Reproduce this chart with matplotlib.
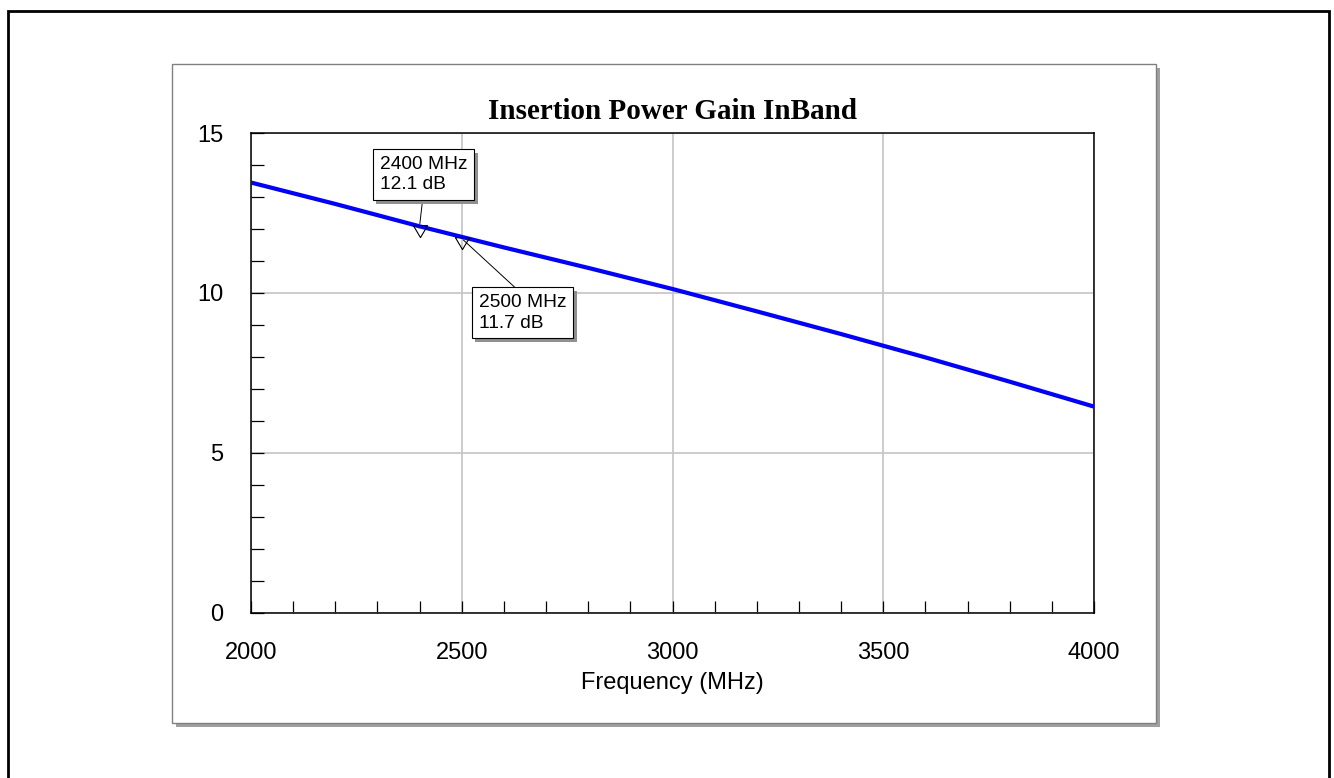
import matplotlib
matplotlib.use("Agg")
import matplotlib.pyplot as plt
from matplotlib.patches import Rectangle
from matplotlib.markers import MarkerStyle
from matplotlib.ticker import MultipleLocator, FixedLocator
import matplotlib.patheffects as pe

# Insertion power gain across the band
freq_mhz = [2000, 2200, 2400, 2600, 2800, 3000, 3200, 3400, 3600, 3800, 4000]
gain_db = [13.45, 12.78, 12.08, 11.42, 10.78, 10.12, 9.42, 8.71, 7.98, 7.22, 6.44]

# Marker readouts
marker_freq = [2400, 2500]
marker_gain = [12.1, 11.7]
marker_text = ["2400 MHz\n12.1 dB", "2500 MHz\n11.7 dB"]
marker_box_xy = [(2409, 13.70), (2644, 9.37)]
marker_leader_anchor = [(0.5, 0.0), (0.5, 1.0)]

title = "Insertion Power Gain InBand"
x_label = "Frequency (MHz)"
x_major = [2000, 2500, 3000, 3500, 4000]
y_major = [0, 5, 10, 15]

W, H = 1334, 778
fig = plt.figure(figsize=(W / 100, H / 100), dpi=100)
fig.patch.set_facecolor("white")


def px_rect(x0, y0, x1, y1, **kw):
    """Rectangle given in pixel coordinates measured from the top-left."""
    r = Rectangle((x0 / W, 1 - y1 / H), (x1 - x0) / W, (y1 - y0) / H,
                  transform=fig.transFigure, **kw)
    fig.patches.append(r)
    return r


# outer page border
px_rect(7.5, 10.5, 1329, 800, fill=False, edgecolor="black", linewidth=2.0, zorder=0)
# chart panel with drop shadow
px_rect(176, 68, 1160, 727, facecolor="#a0a0a0", edgecolor="none", zorder=0)
px_rect(172, 64, 1156, 723, facecolor="white", edgecolor="#808080", linewidth=1.0, zorder=0.5)

ax = fig.add_axes([251 / W, 1 - 612.5 / H, (1094 - 251) / W, (612.5 - 133) / H])
ax.set_facecolor("white")
ax.set_zorder(2)

ax.plot(freq_mhz, gain_db, color="#0000ff", linewidth=3.0, solid_capstyle="butt",
        zorder=3)

tri = MarkerStyle([(-6.5, 0.8), (6.5, 0.8), (0, -10.2), (-6.5, 0.8)])
ax.plot(marker_freq, marker_gain, linestyle="none", marker=tri, markersize=16,
        markerfacecolor="none", markeredgecolor="black", markeredgewidth=0.8,
        zorder=4)

for fx, gy, txt, (bx, by), rel in zip(marker_freq, marker_gain, marker_text,
                                      marker_box_xy, marker_leader_anchor):
    ann = ax.annotate(
        txt, xy=(fx, gy), xytext=(bx, by), textcoords="data",
        ha="center", va="center", multialignment="left", linespacing=1.25,
        fontsize=13.8, family="Liberation Sans", zorder=5,
        bbox=dict(boxstyle="square,pad=0.36", facecolor="white",
                  edgecolor="black", linewidth=0.8),
        arrowprops=dict(arrowstyle="-", color="black", linewidth=0.7,
                        shrinkA=0, shrinkB=1.5, relpos=rel),
    )
    ann.get_bbox_patch().set_path_effects([
        pe.SimplePatchShadow(offset=(2.5, -2.5), shadow_rgbFace="#909090", alpha=1.0),
        pe.Normal(),
    ])

ax.set_xlim(2000, 4000)
ax.set_ylim(0, 15)
ax.xaxis.set_major_locator(FixedLocator(x_major))
ax.xaxis.set_minor_locator(MultipleLocator(100))
ax.yaxis.set_major_locator(FixedLocator(y_major))
ax.yaxis.set_minor_locator(MultipleLocator(1))

ax.grid(True, which="major", color="#c8c8c8", linewidth=1.3, zorder=1)
ax.set_axisbelow(True)

ax.tick_params(which="both", direction="in", length=9, width=0.9, color="black",
               top=False, right=False)
ax.tick_params(axis="y", which="major", pad=20, labelsize=17)
ax.tick_params(axis="x", which="major", pad=21, labelsize=17)
for lab in ax.get_xticklabels() + ax.get_yticklabels():
    lab.set_family("Liberation Sans")

for s in ax.spines.values():
    s.set_color("black")
    s.set_linewidth(1.1)

ax.set_xlabel(x_label, fontsize=17, family="Liberation Sans")
ax.xaxis.set_label_coords(0.5, -0.125)
ax.xaxis.label.set_va("top")

ax.set_title(title, fontsize=21, family="Liberation Serif", fontweight="bold",
             pad=10)

fig.savefig("out.png", dpi=100, facecolor="white")
